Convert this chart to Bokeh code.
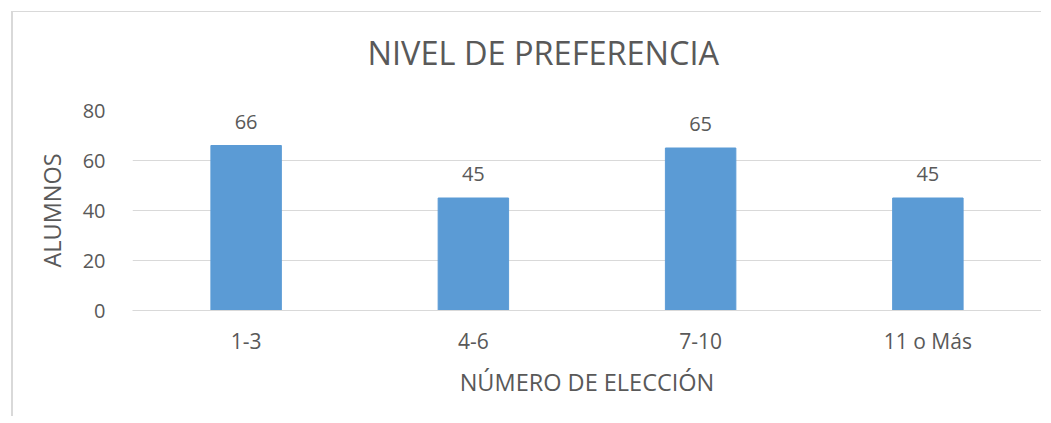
from bokeh.plotting import figure
from bokeh.models import ColumnDataSource, LabelSet, FixedTicker, Range1d, Title
from bokeh.core.properties import value
from bokeh.embed import file_html
from bokeh.resources import INLINE

categories = ["1-3", "4-6", "7-10", "11 o Más"]
alumnos = [66, 45, 65, 45]
y_ticks = [0, 20, 40, 60, 80]
title_text = "NIVEL DE PREFERENCIA"

TEXT = "#595959"
GRID = "#D9D9D9"
BAR = "#5B9BD5"
FONT = "Open Sans"

src = ColumnDataSource(dict(cat=categories, val=alumnos, lab=[str(v) for v in alumnos]))

p = figure(x_range=categories, y_range=Range1d(0, 80), width=1030, height=405,
           output_backend="svg", toolbar_location=None, title=None,
           min_border_left=119, min_border_right=2, min_border_top=98, min_border_bottom=107)
p.styles = {"margin-left": "11px", "margin-top": "11px",
            "border-left": "2px solid #D9D9D9", "border-top": "1px solid #D9D9D9"}

p.vbar(x="cat", top="val", width=0.31, source=src, fill_color=BAR, line_color=BAR)
p.add_layout(LabelSet(x="cat", y="val", text="lab", source=src, text_align="center",
                      text_baseline="alphabetic", y_offset=17, text_color=TEXT,
                      text_font_size="20px", text_font=value(FONT)))

# spacer between the frame and the title
p.add_layout(Title(text=" ", text_font_size="1px", standoff=23), "above")
p.add_layout(Title(text=title_text, align="left", offset=235, vertical_align="top",
                   standoff=16, text_font=FONT, text_font_size="32.5px",
                   text_font_style="normal", text_color=TEXT), "above")

p.outline_line_color = None
p.xgrid.grid_line_color = None
p.ygrid.grid_line_color = GRID
p.ygrid.ticker = FixedTicker(ticks=y_ticks)

p.yaxis.ticker = FixedTicker(ticks=y_ticks)
p.yaxis.axis_line_color = None
p.yaxis.major_tick_line_color = None
p.yaxis.minor_tick_line_color = None
p.yaxis.major_label_standoff = 21
p.yaxis.major_label_text_font_size = "20px"
p.yaxis.axis_label = "ALUMNOS"
p.yaxis.axis_label_standoff = 12

p.xaxis.axis_line_color = GRID
p.xaxis.major_tick_line_color = None
p.xaxis.major_label_standoff = 10
p.xaxis.major_label_text_font_size = "21px"
p.xaxis.axis_label = "NÚMERO DE ELECCIÓN"
p.xaxis.axis_label_standoff = 8

for ax in (p.xaxis[0], p.yaxis[0]):
    ax.major_label_text_font = FONT
    ax.major_label_text_color = TEXT
    ax.axis_label_text_font = FONT
    ax.axis_label_text_font_size = "23.5px"
    ax.axis_label_text_font_style = "normal"
    ax.axis_label_text_color = TEXT

p.x_range.range_padding = 0

open("out.html", "w").write(file_html(p, INLINE))
